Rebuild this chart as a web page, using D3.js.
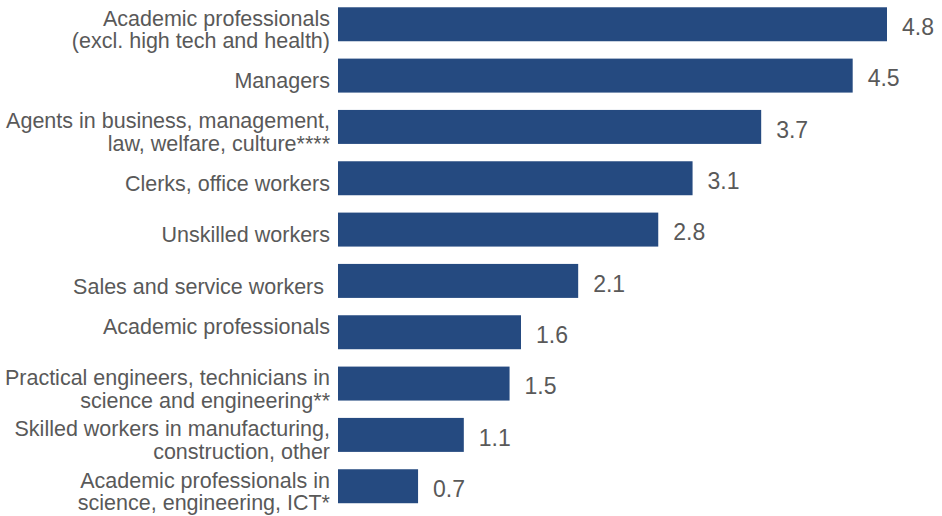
<!DOCTYPE html>
<html>
<head>
<meta charset="utf-8">
<script src="https://cdn.jsdelivr.net/npm/d3@7"></script>
<style>
  html, body { margin: 0; padding: 0; background: #ffffff; }
  svg { display: block; }
  text { font-family: "Liberation Sans", Arial, sans-serif; white-space: pre; }
</style>
</head>
<body>
<svg id="chart" width="942" height="516"></svg>
<script>
// Occupation groups (each entry is the list of label lines) and their values
const categories = [
  ["Academic professionals", "(excl. high tech and health)"],
  ["Managers"],
  ["Agents in business, management,", "law, welfare, culture****"],
  ["Clerks, office workers"],
  ["Unskilled workers"],
  ["Sales and service workers "],
  ["Academic professionals", ""],
  ["Practical engineers, technicians in", "science and engineering**"],
  ["Skilled workers in manufacturing,", "construction, other"],
  ["Academic professionals in", "science, engineering, ICT*"]
];
const values = [4.8, 4.5, 3.7, 3.1, 2.8, 2.1, 1.6, 1.5, 1.1, 0.7];
const valueLabels = ["4.8", "4.5", "3.7", "3.1", "2.8", "2.1", "1.6", "1.5", "1.1", "0.7"];

const data = categories.map((lines, i) => ({ id: i, lines, value: values[i], label: valueLabels[i] }));

const svg = d3.select("#chart");
const barColor = "#254a80";
const textColor = "#595959";

const x = d3.scaleLinear().domain([0, 4.8]).range([338, 887]);
const y = d3.scaleBand()
  .domain(data.map(d => d.id))
  .range([-1.4, 511.9])
  .paddingInner(0.338)
  .paddingOuter(0.169);

// Bars
svg.append("g")
  .selectAll("rect")
  .data(data)
  .join("rect")
  .attr("x", x(0))
  .attr("y", d => y(d.id))
  .attr("width", d => x(d.value) - x(0))
  .attr("height", y.bandwidth())
  .attr("fill", barColor);

// Value labels
svg.append("g")
  .selectAll("text")
  .data(data)
  .join("text")
  .attr("x", d => x(d.value) + 15)
  .attr("y", d => y(d.id) + y.bandwidth() / 2 + 2.5)
  .attr("dy", "0.36em")
  .attr("font-size", 23)
  .attr("fill", textColor)
  .text(d => d.label);

// Category labels, right-aligned beside the baseline
const lineH = 22.5;
const cat = svg.append("g")
  .selectAll("text")
  .data(data)
  .join("text")
  .attr("font-size", 21.5)
  .attr("fill", textColor)
  .attr("text-anchor", "end");

cat.each(function(d) {
  const n = d.lines.length;
  const cy = y(d.id) + y.bandwidth() / 2 + 5;
  d3.select(this).selectAll("tspan")
    .data(d.lines)
    .join("tspan")
    .attr("x", 330)
    .attr("y", (l, i) => cy + (i - (n - 1) / 2) * lineH)
    .attr("dy", "0.36em")
    .text(l => l);
});
</script>
</body>
</html>
